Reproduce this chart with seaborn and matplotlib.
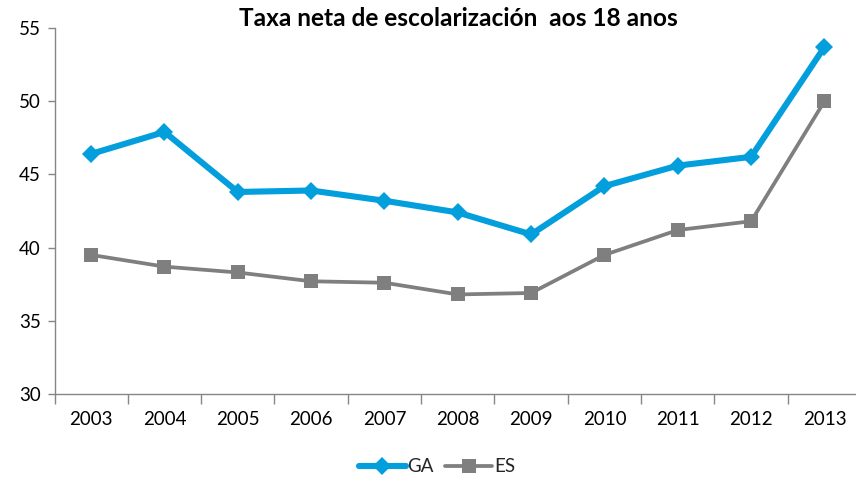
import matplotlib
matplotlib.use("Agg")
import matplotlib.pyplot as plt
import seaborn as sns
import pandas as pd
import numpy as np
from matplotlib.lines import Line2D

years = ["2003", "2004", "2005", "2006", "2007", "2008", "2009", "2010", "2011", "2012", "2013"]
ga = [46.4, 47.9, 43.8, 43.9, 43.2, 42.4, 40.9, 44.2, 45.6, 46.2, 53.7]
es = [39.5, 38.7, 38.3, 37.7, 37.6, 36.8, 36.9, 39.5, 41.2, 41.8, 50.0]
series = ["GA", "ES"]
title = "Taxa neta de escolarización  aos 18 anos"

df = pd.DataFrame({
    "year": years * 2,
    "value": ga + es,
    "serie": ["GA"] * len(years) + ["ES"] * len(years),
})

sns.set_theme(style="white")
plt.rcParams["font.family"] = ["Lato", "DejaVu Sans"]

fig = plt.figure(figsize=(8.56, 4.82), dpi=100)
ax = fig.add_axes([54.5 / 856, 1 - 394 / 482, 1 - 54.5 / 856, (394 - 28) / 482])

GA_C, ES_C = "#039FDD", "#7F7F7F"
palette = {"GA": GA_C, "ES": ES_C}
markers = {"GA": "D", "ES": "s"}
sns.lineplot(data=df, x="year", y="value", hue="serie", style="serie",
             markers=markers, dashes=False, palette=palette, sort=False,
             ax=ax, legend=False, markeredgewidth=0)

for line in ax.lines:
    c = matplotlib.colors.to_hex(line.get_color())
    if c.lower() == GA_C.lower():
        line.set_linewidth(4.4)
        line.set_markersize(9)
    else:
        line.set_linewidth(2.7)
        line.set_markersize(10.5)

ax.set_ylim(30, 55)
ax.set_yticks([30, 35, 40, 45, 50, 55])
ax.set_xlim(-0.5, 10.43)
ax.set_xticks(range(len(years)))
ax.set_xticklabels(years)
ax.set_xticks(np.arange(-0.5, 10.0, 1.0), minor=True)
ax.set_xlabel("")
ax.set_ylabel("")

for s in ["top", "right"]:
    ax.spines[s].set_visible(False)
for s in ["left", "bottom"]:
    ax.spines[s].set_color("#868686")
    ax.spines[s].set_linewidth(1.0)

ax.tick_params(axis="x", which="major", length=0, pad=12, labelsize=13.5, colors="black")
ax.tick_params(axis="x", which="minor", length=7, width=1, color="#868686", direction="out", bottom=True)
ax.tick_params(axis="y", which="major", length=5, width=1, color="#868686", direction="out", left=True,
               labelsize=13.5, pad=5, labelcolor="black")

fig.text(458 / 856, 1 - 18 / 482, title, ha="center", va="center",
         fontsize=17.6, fontweight="bold", color="black")

handles = [
    Line2D([], [], color=GA_C, lw=4.4, marker="D", markersize=9, markeredgewidth=0),
    Line2D([], [], color=ES_C, lw=2.7, marker="s", markersize=10.5, markeredgewidth=0),
]
fig.legend(handles, series, loc="center", bbox_to_anchor=(437 / 856, 1 - 467 / 482),
           ncol=2, frameon=False, fontsize=13.5, handlelength=2.5, handletextpad=0.1,
           columnspacing=0.6)

fig.savefig("out.png", dpi=100)
